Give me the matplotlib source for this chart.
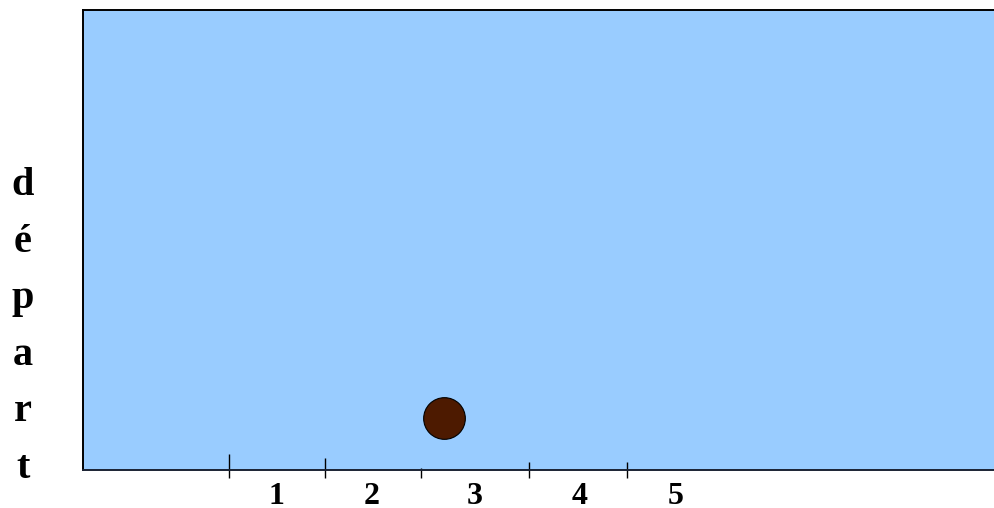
import matplotlib
matplotlib.use("Agg")
import matplotlib.pyplot as plt

# ---- data ----
tick_positions = [1.52, 2.52, 3.52, 4.65, 5.67]     # graduation marks along the track
tick_heights = [0.167, 0.125, 0.021, 0.083, 0.083]   # how far each mark rises into the area
label_positions = [2.02, 3.01, 4.08, 5.17, 6.17]
tick_labels = ["1", "2", "3", "4", "5"]
ball_x = [3.76]
ball_y = [0.54]
side_letters = list("départ")

W, H, DPI = 995, 508, 100
fig = plt.figure(figsize=(W / DPI, H / DPI), dpi=DPI)
fig.patch.set_facecolor("white")

left, right, top, bottom = 83, 995, 10, 470
ax = fig.add_axes([left / W, (H - bottom) / H, (right - left) / W, (bottom - top) / H])
ax.set_xlim(0, (right - left) / 96)
ax.set_ylim(0, (bottom - top) / 96)
ax.set_facecolor("#99CCFF")
for s in ["top", "left", "bottom"]:
    ax.spines[s].set_linewidth(1.4)
    ax.spines[s].set_color("black")
ax.spines["bottom"].set_color("#1a2233")
ax.spines["right"].set_visible(False)
ax.set_yticks([])

# graduation marks
below = 8 / 96
ax.vlines(tick_positions, [-below] * len(tick_positions), tick_heights,
          colors="black", linewidth=1.0, clip_on=False)

# labels
ax.set_xticks(label_positions, tick_labels)
ax.tick_params(axis="x", length=0, pad=9, labelsize=23)
for lab in ax.get_xticklabels():
    lab.set_fontfamily("Liberation Serif")
    lab.set_fontweight("bold")

# ball
ax.plot(ball_x, ball_y, "o", markersize=30, markerfacecolor="#4D1A00",
        markeredgecolor="black", markeredgewidth=0.8)

# vertical "départ"
y0 = H - 195
step = 56.6
for i, ch in enumerate(side_letters):
    fig.text(23 / W, (y0 - i * step) / H, ch, ha="center", va="baseline",
             fontsize=29, fontweight="bold", family="Liberation Serif")

fig.savefig("out.png", dpi=DPI)
